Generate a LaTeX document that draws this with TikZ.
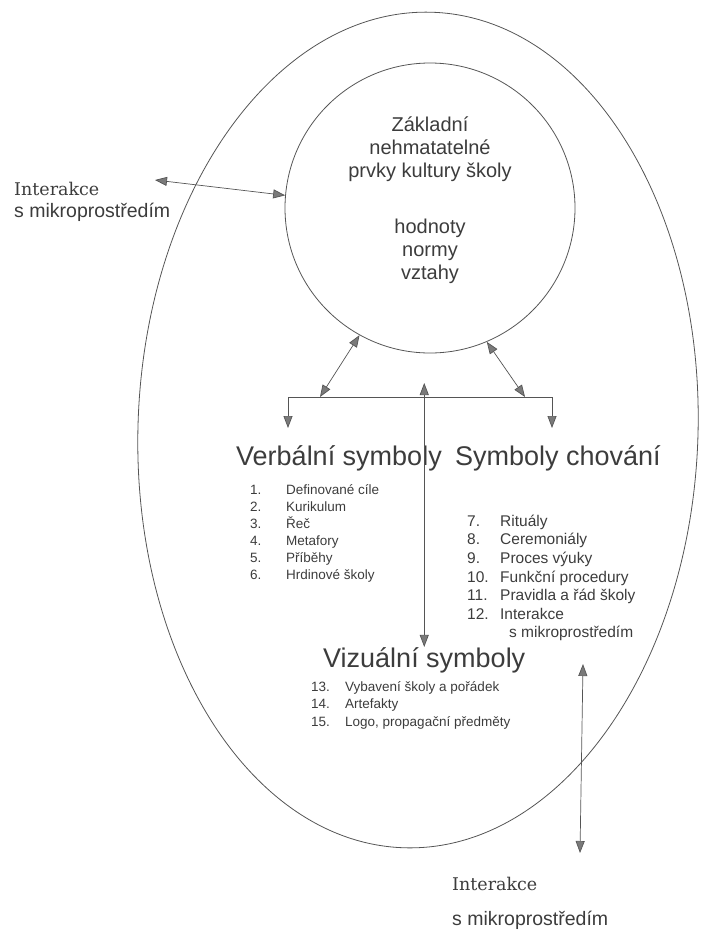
\documentclass[tikz,border=0pt]{standalone}
\usepackage{fontspec}
\setmainfont{Liberation Sans}
\newfontfamily\serifface{DejaVu Serif}
\usetikzlibrary{positioning,arrows.meta,shapes.geometric}
\definecolor{cink}{HTML}{3C3C3C}
\definecolor{cline}{HTML}{555555}
\definecolor{ctip}{HTML}{7A7A7A}

\begin{document}
\begin{tikzpicture}[x=1pt,y=-1pt,
      text=cink,
      ring/.style={draw=cline,line width=0.8pt},
      core/.style={font=\fontsize{20}{23}\selectfont,align=center,inner sep=0pt},
      head/.style={font=\fontsize{27}{30}\selectfont,anchor=base west,inner sep=0pt},
      list/.style={anchor=north west,inner sep=0pt},
      lbl/.style={font=\fontsize{19.5}{22}\selectfont,anchor=base west,inner sep=0pt},
      ilbl/.style={lbl,font=\serifface\fontsize{17.5}{20}\selectfont},
      ar/.style={{Triangle[length=12pt,width=9pt,fill=ctip]}-{Triangle[length=12pt,width=9pt,fill=ctip]},draw=cline,line width=0.7pt}]

    \useasboundingbox (0,0) rectangle (707,937);

    % school and its culture
    \node[ring,ellipse,minimum width=560pt,minimum height=836pt,rotate=-2] (env) at (418,430) {};
    \node[ring,circle,minimum size=290pt] (core) at (430,208) {};
    \node[core] (title) at (430,149) {Základní\\nehmatatelné\\prvky kultury školy};
    \node[core] (vals) at (430,251) {hodnoty\\normy\\vztahy};

    \node[head] (verb) at (236,465) {Verbální symboly};
    \node[head] (chov) at (455,465) {Symboly chování};
    \node[head] (vis) at (323,667) {Vizuální symboly};

    \node[list,font=\fontsize{13.5}{17}\selectfont] (verblist) at (250,482) {\begin{tabular}{@{}p{36pt}@{}l@{}}
      1. & Definované cíle\\ 2. & Kurikulum\\ 3. & Řeč\\ 4. & Metafory\\ 5. & Příběhy\\ 6. & Hrdinové školy
    \end{tabular}};
    \node[list,font=\fontsize{15.5}{18.6}\selectfont] (chovlist) at (467,513) {\begin{tabular}{@{}p{33pt}@{}l@{}}
      7. & Rituály\\ 8. & Ceremoniály\\ 9. & Proces výuky\\ 10. & Funkční procedury\\
      11. & Pravidla a řád školy\\ 12. & Interakce\\ & \hspace{9pt}s mikroprostředím
    \end{tabular}};
    \node[list,font=\fontsize{13.5}{17.5}\selectfont] (vislist) at (311,679) {\begin{tabular}{@{}p{34pt}@{}l@{}}
      13. & Vybavení školy a pořádek\\ 14. & Artefakty\\ 15. & Logo, propagační předměty
    \end{tabular}};

    % microenvironment
    \node[ilbl] (intl) at (14,195) {Interakce};
    \node[lbl] (mikl) at (14,217) {s mikroprostředím};
    \node[ilbl] (intb) at (452,890) {Interakce};
    \node[lbl] (mikb) at (452,925) {s mikroprostředím};

    \coordinate (lend) at (155,180);
    \coordinate (bla) at (320,397);
    \coordinate (bra) at (525,397);
    \coordinate (vtip) at (288,428);
    \coordinate (ctip) at (552,428);
    \coordinate (mtop) at (424,383);
    \coordinate (rtop) at (583,664);
    \coordinate (rbot) at (580,853);

    \draw[ar] (lend) -- (core.175);
    \draw[ar] (core.241) -- (bla);
    \draw[ar] (core.293) -- (bra);
    \draw[ar] (vtip) -- ++(0,-31) -| (ctip);
    \draw[ar] (vis.north) -- (vis.north |- mtop);
    \draw[ar] (rtop) -- (rbot);
  \end{tikzpicture}
\end{document}
